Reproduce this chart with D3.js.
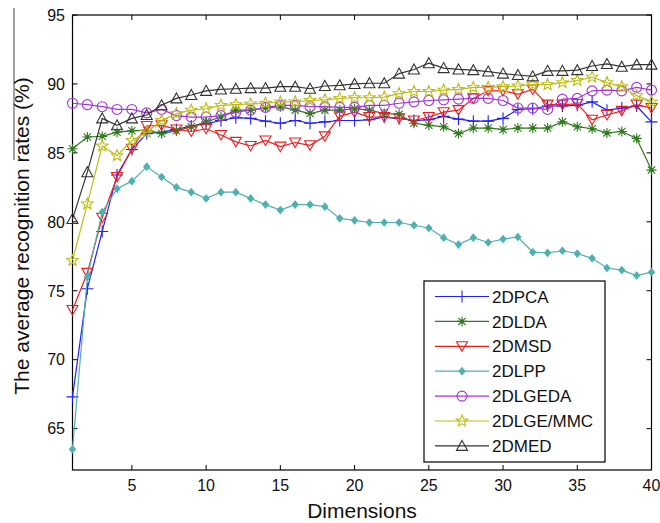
<!DOCTYPE html>
<html lang="en">
<head>
  <meta charset="UTF-8">
  <title>Average recognition rates vs dimensions</title>
  <script src="https://d3js.org/d3.v7.min.js"></script>
  <style>
    body {
      margin: 0;
      padding: 0;
      background: #fff;
      font-family: "Liberation Sans", Arial, sans-serif;
    }
    .line {
      fill: none;
      stroke-width: 1.2px;
    }
    .tick-label {
      font-size: 16px;
      fill: #111;
    }
  </style>
</head>
<body>
  <div id="chart"></div>
  <script>
// dimensions 1..40
const dims = d3.range(1, 41);

const names = ["2DPCA", "2DLDA", "2DMSD", "2DLPP", "2DLGEDA", "2DLGE/MMC", "2DMED"];

const pca = [67.3, 75.15, 79.3, 83.4, 85.25, 86.4, 86.5, 86.7, 86.95, 87.1,
  87.35, 87.55, 87.5, 87.3, 87.15, 87.35, 87.15, 87.25, 87.35, 87.35,
  87.4, 87.6, 87.5, 87.35, 87.4, 87.65, 87.45, 87.3, 87.3, 87.5,
  88.15, 88.2, 88.4, 88.4, 88.45, 88.7, 88.1, 88.25, 88.4, 87.25];

const lda = [85.3, 86.15, 86.2, 86.5, 86.6, 86.65, 86.4, 86.6, 86.9, 87.25,
  87.6, 88.1, 88.1, 88.25, 88.35, 88.1, 87.85, 88.1, 88.1, 88.2,
  88.1, 87.85, 87.8, 87.15, 87.0, 86.9, 86.4, 86.8, 86.8, 86.7,
  86.8, 86.8, 86.8, 87.25, 86.9, 86.75, 86.45, 86.55, 86.05, 83.75];

const msd = [73.6, 76.3, 80.3, 83.25, 85.3, 86.95, 87.0, 86.7, 86.55, 86.75,
  86.3, 85.8, 85.5, 85.9, 85.45, 85.75, 85.55, 86.2, 87.65, 87.95,
  87.6, 87.6, 87.5, 87.35, 87.6, 87.95, 88.1, 88.95, 89.5, 89.5,
  89.25, 89.6, 88.5, 88.5, 88.55, 87.4, 87.75, 88.05, 88.5, 88.25];

const lpp = [63.5, 76.0, 80.7, 82.4, 82.95, 84.0, 83.25, 82.5, 82.15, 81.7,
  82.15, 82.15, 81.7, 81.25, 80.85, 81.25, 81.25, 81.1, 80.25, 80.1,
  79.95, 79.95, 79.95, 79.75, 79.55, 78.85, 78.35, 78.85, 78.5, 78.75,
  78.9, 77.8, 77.75, 77.9, 77.7, 77.35, 76.65, 76.5, 76.1, 76.35];

const lgeda = [88.6, 88.5, 88.35, 88.15, 88.15, 87.9, 88.15, 87.7, 87.6, 87.6,
  87.7, 87.95, 88.1, 88.3, 88.45, 88.45, 88.35, 88.35, 88.3, 88.3,
  88.45, 88.45, 88.6, 88.7, 88.8, 88.85, 88.9, 88.95, 88.95, 88.8,
  88.25, 88.25, 88.15, 88.9, 88.95, 89.5, 89.55, 89.5, 89.75, 89.55];

const lgemmc = [77.2, 81.3, 85.5, 84.8, 85.9, 86.5, 87.35, 87.85, 88.1, 88.2,
  88.45, 88.5, 88.55, 88.6, 88.7, 88.7, 88.8, 88.85, 88.95, 89.0,
  89.0, 89.05, 89.3, 89.45, 89.45, 89.55, 89.6, 89.75, 89.75, 89.8,
  89.85, 89.95, 89.95, 90.1, 90.25, 90.5, 90.1, 89.8, 89.15, 88.7];

const med = [80.2, 83.6, 87.5, 87.0, 87.5, 87.75, 88.45, 88.95, 89.2, 89.5,
  89.6, 89.65, 89.7, 89.7, 89.8, 89.8, 89.65, 89.85, 89.9, 90.0,
  90.05, 90.05, 90.75, 91.05, 91.5, 91.15, 91.05, 91.0, 90.9, 90.75,
  90.65, 90.55, 90.95, 90.95, 91.0, 91.3, 91.45, 91.25, 91.4, 91.4];

const xTicks = [5, 10, 15, 20, 25, 30, 35, 40];
const yTicks = [65, 70, 75, 80, 85, 90, 95];

const width = 660, height = 523;
const plotL = 72.5, plotR = 651.5, plotT = 15, plotB = 470;

const x = d3.scaleLinear().domain([1, 40]).range([plotL, plotR]);
const y = d3.scaleLinear().domain([62, 95]).range([plotB, plotT]);

// marker shapes
function star(ro, ri) {
  let p = "";
  for (let i = 0; i < 10; i++) {
    const r = i % 2 ? ri : ro;
    const a = -Math.PI / 2 + i * Math.PI / 5;
    p += (i ? "L" : "M") + (r * Math.cos(a)).toFixed(2) + "," + (r * Math.sin(a)).toFixed(2);
  }
  return p + "Z";
}
const markers = {
  "2DPCA": { d: "M-6,0H6M0,-6V6", fill: "none" },
  "2DLDA": { d: "M-5,0H5M0,-5V5M-3.6,-3.6L3.6,3.6M-3.6,3.6L3.6,-3.6", fill: "none", dot: true },
  "2DMSD": { d: "M0,5L5.5,-4.5L-5.5,-4.5Z", fill: "none" },
  "2DLPP": { d: "M0,-3.5L3,0L0,3.5L-3,0Z", fill: "color" },
  "2DLGEDA": { d: "M5,0A5,5 0 1,1 -5,0A5,5 0 1,1 5,0Z", fill: "none" },
  "2DLGE/MMC": { d: star(6, 2.6), fill: "none" },
  "2DMED": { d: "M0,-5.5L5.5,4.5L-5.5,4.5Z", fill: "none" }
};

const colors = {
  "2DPCA": "#1f1fff",
  "2DLDA": "#2f7a1e",
  "2DMSD": "#f01c1c",
  "2DLPP": "#4fb0b0",
  "2DLGEDA": "#a535d8",
  "2DLGE/MMC": "#bdbd14",
  "2DMED": "#333333"
};

const series = [pca, lda, msd, lpp, lgeda, lgemmc, med].map((vals, i) => ({
  name: names[i],
  values: vals.map((v, j) => ({ d: dims[j], v: v }))
}));

const svg = d3.select("#chart")
  .append("svg")
  .attr("width", width)
  .attr("height", height);

// odd little overline left over near the y label
svg.append("line")
  .attr("x1", 14).attr("x2", 14)
  .attr("y1", 8).attr("y2", 160)
  .attr("stroke", "#444")
  .attr("stroke-width", 1);

// plot box
svg.append("rect")
  .attr("x", plotL).attr("y", plotT)
  .attr("width", plotR - plotL).attr("height", plotB - plotT)
  .attr("fill", "#fff")
  .attr("stroke", "#000")
  .attr("stroke-width", 1.2);

// inward ticks on all four sides
const tk = 5;
const ticks = svg.append("g").attr("stroke", "#000").attr("stroke-width", 1);
xTicks.forEach(t => {
  ticks.append("line").attr("x1", x(t)).attr("x2", x(t)).attr("y1", plotB).attr("y2", plotB - tk);
  ticks.append("line").attr("x1", x(t)).attr("x2", x(t)).attr("y1", plotT).attr("y2", plotT + tk);
});
yTicks.forEach(t => {
  ticks.append("line").attr("x1", plotL).attr("x2", plotL + tk).attr("y1", y(t)).attr("y2", y(t));
  ticks.append("line").attr("x1", plotR).attr("x2", plotR - tk).attr("y1", y(t)).attr("y2", y(t));
});

svg.append("g").selectAll("text")
  .data(xTicks)
  .join("text")
  .attr("class", "tick-label")
  .attr("x", d => x(d))
  .attr("y", 491)
  .attr("text-anchor", "middle")
  .text(d => d);

svg.append("g").selectAll("text")
  .data(yTicks)
  .join("text")
  .attr("class", "tick-label")
  .attr("x", 65)
  .attr("y", d => y(d))
  .attr("dy", "0.36em")
  .attr("text-anchor", "end")
  .text(d => d);

svg.append("text")
  .attr("x", (plotL + plotR) / 2)
  .attr("y", 518)
  .attr("text-anchor", "middle")
  .style("font-size", "21px")
  .attr("fill", "#111")
  .text("Dimensions");

svg.append("text")
  .attr("transform", "translate(29,236) rotate(-90)")
  .attr("text-anchor", "middle")
  .style("font-size", "21px")
  .attr("fill", "#111")
  .text("The average recognition rates (%)");

// lines + markers
const line = d3.line().x(p => x(p.d)).y(p => y(p.v));

const sg = svg.append("g").selectAll("g")
  .data(series)
  .join("g");

sg.append("path")
  .attr("class", "line")
  .attr("stroke", s => colors[s.name])
  .attr("d", s => line(s.values));

sg.each(function(s) {
  const m = markers[s.name];
  const g = d3.select(this);
  g.selectAll("path.mk")
    .data(s.values)
    .join("path")
    .attr("class", "mk")
    .attr("transform", p => `translate(${x(p.d)},${y(p.v)})`)
    .attr("d", m.d)
    .attr("fill", m.fill === "color" ? colors[s.name] : "none")
    .attr("stroke", colors[s.name])
    .attr("stroke-width", 1.1);
  if (m.dot) {
    g.selectAll("circle.dot")
      .data(s.values)
      .join("circle")
      .attr("class", "dot")
      .attr("cx", p => x(p.d))
      .attr("cy", p => y(p.v))
      .attr("r", 2)
      .attr("fill", colors[s.name]);
  }
});

// legend
const lg = svg.append("g");
lg.append("rect")
  .attr("x", 424).attr("y", 281)
  .attr("width", 181).attr("height", 181)
  .attr("fill", "#fff")
  .attr("stroke", "#000")
  .attr("stroke-width", 1.2);

const item = lg.selectAll("g.item")
  .data(names)
  .join("g")
  .attr("class", "item")
  .attr("transform", (n, i) => `translate(0,${296.5 + i * 24.9})`);

item.append("line")
  .attr("x1", 435).attr("x2", 489)
  .attr("stroke", n => colors[n])
  .attr("stroke-width", 1.2);

item.append("path")
  .attr("transform", "translate(462,0)")
  .attr("d", n => markers[n].d)
  .attr("fill", n => markers[n].fill === "color" ? colors[n] : "none")
  .attr("stroke", n => colors[n])
  .attr("stroke-width", 1.1);

item.filter(n => markers[n].dot)
  .append("circle")
  .attr("cx", 462).attr("r", 2)
  .attr("fill", n => colors[n]);

item.append("text")
  .attr("x", 492)
  .attr("dy", "0.36em")
  .style("font-size", "17px")
  .attr("fill", "#111")
  .text(n => n);
  </script>
</body>
</html>
